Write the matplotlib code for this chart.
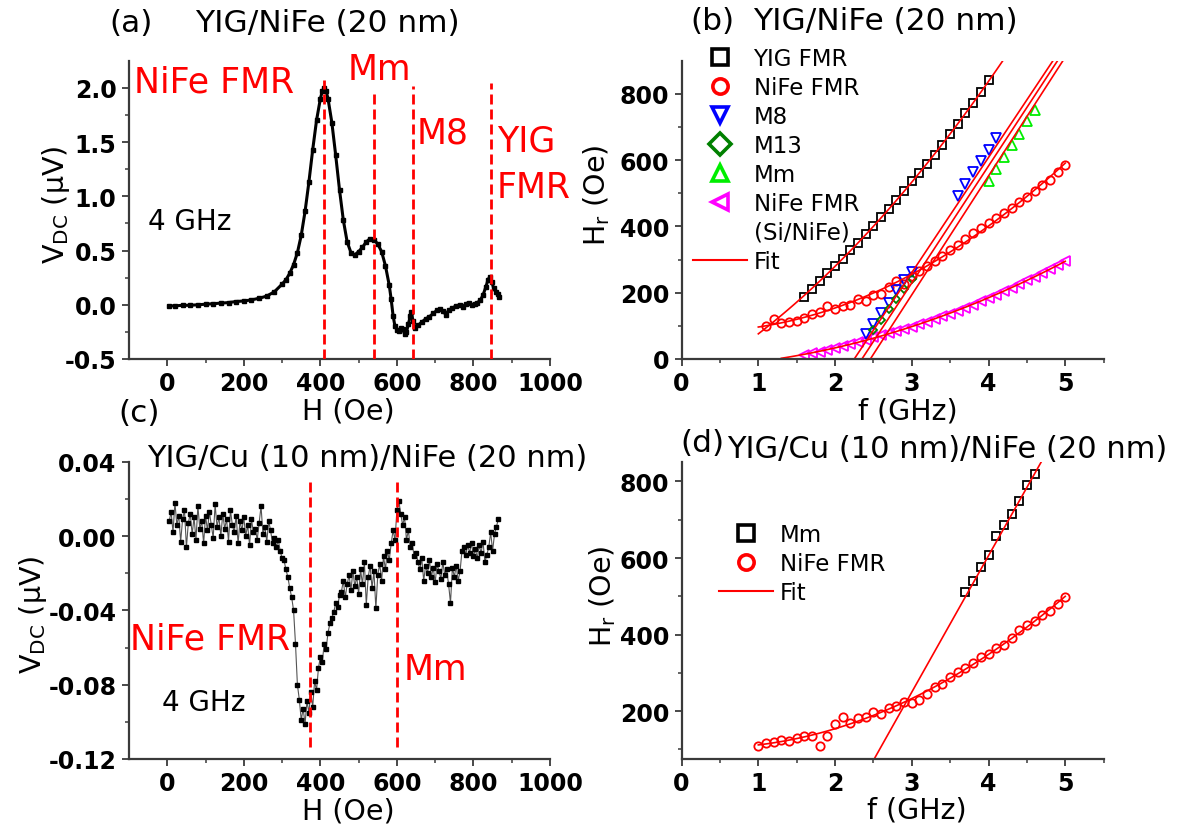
import numpy as np
import matplotlib
matplotlib.use("Agg")
import matplotlib.pyplot as plt
from matplotlib.lines import Line2D

plt.rcParams['font.family'] = ['DejaVu Sans']
plt.rcParams['mathtext.default'] = 'regular'
plt.rcParams['axes.unicode_minus'] = False

W, H = 1187, 829


def fx(x):
    return x / W


def fy(y):
    return 1 - y / H


# ---------------- (a) YIG/NiFe (20 nm), 4 GHz sweep ----------------
a_H = [5, 20, 40, 60, 80, 100, 120, 140, 160, 180, 200, 220, 240, 260, 280,
       300, 310, 320, 330, 340, 350, 360, 370, 380, 390, 400, 405, 410, 415,
       420, 430, 440, 450, 460, 470, 480, 490, 500, 510, 520, 530, 540, 550,
       560, 570, 580, 585, 590, 595, 600, 605, 610, 615, 620, 625, 630, 635,
       638, 642, 648, 655, 665, 675, 685, 695, 705, 712, 720, 728, 735, 745,
       755, 765, 772, 780, 788, 795, 803, 810, 818, 825, 832, 838, 843, 848,
       853, 858, 863, 868]
a_V = [-0.01, -0.01, -0.005, -0.005, 0.0, 0.005, 0.01, 0.015, 0.02, 0.03,
       0.035, 0.045, 0.06, 0.08, 0.12, 0.19, 0.23, 0.29, 0.37, 0.48, 0.64,
       0.86, 1.13, 1.43, 1.70, 1.90, 1.97, 2.00, 1.97, 1.90, 1.68, 1.38, 1.06,
       0.78, 0.58, 0.48, 0.46, 0.49, 0.53, 0.58, 0.61, 0.60, 0.56, 0.49, 0.36,
       0.18, 0.05, -0.10, -0.20, -0.23, -0.24, -0.21, -0.22, -0.27, -0.25,
       -0.18, -0.10, -0.07, -0.15, -0.21, -0.19, -0.16, -0.13, -0.11, -0.08,
       -0.05, -0.04, -0.06, -0.09, -0.05, -0.03, -0.01, 0.0, -0.02, 0.01,
       0.02, 0.0, 0.01, 0.02, 0.04, 0.09, 0.16, 0.23, 0.26, 0.21, 0.15, 0.12,
       0.10, 0.07]
a_mode_H = [410, 540, 641, 846]
a_mode_top = [2.07, 1.99, 2.02, 2.04]
a_labels = ['NiFe FMR', 'Mm', 'M8', 'YIG', 'FMR']
a_label_pos = [(-87, 2.06), (471, 2.17), (651, 1.59), (861, 1.51), (861, 1.085)]

# ---------------- (b) resonance fields vs frequency ----------------
b_yig_f = [1.6, 1.7, 1.8, 1.9, 2.0, 2.1, 2.2, 2.3, 2.4, 2.5, 2.6, 2.7, 2.8,
           2.9, 3.0, 3.1, 3.2, 3.3, 3.4, 3.5, 3.6, 3.7, 3.8, 3.9, 4.0]
b_yig_H = [188, 211, 236, 259, 281, 303, 329, 351, 376, 401, 427, 454, 480,
           506, 536, 561, 588, 615, 645, 678, 708, 741, 773, 806, 843]
b_nife_f = [1.1, 1.2, 1.3, 1.4, 1.5, 1.6, 1.7, 1.8, 1.9, 2.0, 2.1, 2.2, 2.3,
            2.4, 2.5, 2.6, 2.7, 2.8, 2.9, 3.0, 3.1, 3.2, 3.3, 3.4, 3.5, 3.6,
            3.7, 3.8, 3.9, 4.0, 4.1, 4.2, 4.3, 4.4, 4.5, 4.6, 4.7, 4.8, 4.9,
            5.0]
b_nife_H = [100, 120, 108, 112, 115, 125, 135, 141, 161, 151, 161, 163, 181,
            176, 193, 196, 216, 236, 226, 251, 266, 281, 296, 311, 329, 343,
            361, 381, 394, 409, 424, 441, 457, 474, 490, 507, 524, 541, 565,
            585]
b_m8_f = [2.4, 2.5, 2.6, 2.7, 2.8, 2.9, 3.0, 3.6, 3.7, 3.8, 3.9, 4.0, 4.1]
b_m8_H = [75, 105, 138, 170, 208, 237, 262, 492, 528, 564, 597, 632, 667]
b_m13_f = [2.5, 2.6, 2.7, 2.8, 2.9, 3.0]
b_m13_H = [88, 118, 150, 180, 210, 240]
b_mm_f = [4.0, 4.1, 4.2, 4.3, 4.4, 4.5, 4.6]
b_mm_H = [538, 572, 610, 646, 680, 718, 752]
b_si_f = [1.6, 1.7, 1.8, 1.9, 2.0, 2.1, 2.2, 2.3, 2.4, 2.5, 2.6, 2.7, 2.8,
          2.9, 3.0, 3.1, 3.2, 3.3, 3.4, 3.5, 3.6, 3.7, 3.8, 3.9, 4.0, 4.1,
          4.2, 4.3, 4.4, 4.5, 4.6, 4.7, 4.8, 4.9, 5.0]
b_si_H = [12, 17, 22, 28, 33, 40, 46, 52, 58, 65, 71, 78, 84, 91, 98, 106,
          113, 121, 129, 137, 146, 155, 164, 174, 184, 194, 204, 215, 226, 237,
          248, 260, 272, 284, 296]
# straight fits of the M8 / M13 / Mm branches (end points)
b_fit_m8_f, b_fit_m8_H = [2.25, 4.84], [0, 900]
b_fit_m13_f, b_fit_m13_H = [2.35, 4.90], [0, 900]
b_fit_mm_f, b_fit_mm_H = [2.46, 4.97], [0, 900]

# ---------------- (c) YIG/Cu/NiFe, 4 GHz sweep ----------------
c_H = [5, 10, 15, 20, 25, 30, 35, 40, 45, 50,
       55, 60, 65, 70, 75, 80, 85, 90, 95, 100,
       105, 110, 115, 120, 125, 130, 135, 140, 145, 150,
       155, 160, 165, 170, 175, 180, 185, 190, 195, 200,
       205, 210, 215, 220, 225, 230, 235, 240, 245, 250,
       255, 260, 265, 270, 275, 280, 285, 290, 295, 300,
       305, 310, 315, 320, 325, 330, 335, 340, 345, 350,
       355, 360, 365, 370, 375, 380, 385, 390, 395, 400,
       405, 410, 415, 420, 425, 430, 435, 440, 445, 450,
       455, 460, 465, 470, 475, 480, 485, 490, 495, 500,
       505, 510, 515, 520, 525, 530, 535, 540, 545, 550,
       555, 560, 565, 570, 575, 580, 585, 590, 595, 600,
       605, 610, 615, 620, 625, 630, 635, 640, 645, 650,
       655, 660, 665, 670, 675, 680, 685, 690, 695, 700,
       705, 710, 715, 720, 725, 730, 735, 740, 745, 750,
       755, 760, 765, 770, 775, 780, 785, 790, 795, 800,
       805, 810, 815, 820, 825, 830, 835, 840, 845, 850,
       855, 860, 865]
c_V = [0.008, 0.013, 0.002, 0.018, 0.006, 0.011, -0.003, 0.009, 0.014, -0.006,
       0.007, 0.012, 0.001, 0.010, -0.002, 0.016, 0.004, 0.008, -0.004, 0.011,
       0.003, 0.013, 0.006, -0.001, 0.017, 0.005, 0.010, 0.000, 0.012, 0.004,
       0.009, -0.003, 0.014, 0.006, 0.002, 0.011, -0.004, 0.008, 0.003, 0.010,
       0.000, 0.006, -0.005, 0.009, 0.002, 0.004, -0.002, 0.007, 0.016, 0.001,
       0.005, -0.003, 0.008, 0.003, -0.004, -0.001, -0.006, -0.002, -0.008, -0.012,
       -0.013, -0.018, -0.022, -0.028, -0.033, -0.040, -0.058, -0.080, -0.088, -0.099,
       -0.093, -0.101, -0.089, -0.095, -0.084, -0.092, -0.078, -0.083, -0.071, -0.065,
       -0.068, -0.058, -0.061, -0.052, -0.047, -0.044, -0.041, -0.036, -0.038, -0.032,
       -0.030, -0.024, -0.033, -0.026, -0.021, -0.029, -0.019, -0.027, -0.022, -0.031,
       -0.018, -0.026, -0.014, -0.037, -0.022, -0.016, -0.028, -0.019, -0.039, -0.021,
       -0.015, -0.024, -0.011, -0.018, -0.008, -0.013, -0.004, 0.003, -0.002, 0.014,
       0.019, 0.012, 0.006, 0.010, -0.002, 0.003, -0.006, -0.004, -0.011, -0.009,
       -0.014, -0.018, -0.012, -0.024, -0.016, -0.020, -0.013, -0.022, -0.017, -0.025,
       -0.015, -0.019, -0.023, -0.014, -0.021, -0.018, -0.026, -0.036, -0.017, -0.022,
       -0.016, -0.024, -0.019, -0.008, -0.006, -0.010, -0.005, -0.009, -0.004, -0.011,
       -0.007, -0.012, -0.005, -0.009, -0.003, -0.014, -0.010, -0.006, 0.002, -0.008,
       0.001, 0.005, 0.009]
c_mode_H = [372, 599]
c_mode_top = [0.029, 0.031]
c_labels = ['NiFe FMR', 'Mm']
c_label_pos = [(-97, -0.0554), (617, -0.0716)]

# ---------------- (d) resonance fields, YIG/Cu/NiFe ----------------
d_mm_f = [3.7, 3.8, 3.9, 4.0, 4.1, 4.2, 4.3, 4.4, 4.5, 4.6]
d_mm_H = [511, 541, 577, 609, 657, 685, 715, 750, 791, 819]
d_nife_f = [1.0, 1.1, 1.2, 1.3, 1.4, 1.5, 1.6, 1.7, 1.8, 1.9, 2.0, 2.1, 2.2,
            2.3, 2.4, 2.5, 2.6, 2.7, 2.8, 2.9, 3.0, 3.1, 3.2, 3.3, 3.4, 3.5,
            3.6, 3.7, 3.8, 3.9, 4.0, 4.1, 4.2, 4.3, 4.4, 4.5, 4.6, 4.7, 4.8,
            4.9, 5.0]
d_nife_H = [110, 118, 120, 124, 123, 129, 136, 136, 110, 136, 166, 185, 169,
            181, 185, 197, 192, 207, 214, 223, 220, 229, 246, 262, 270, 288,
            301, 314, 327, 341, 350, 364, 372, 392, 411, 425, 435, 450, 461,
            479, 498]
d_fit_mm_f, d_fit_mm_H = [2.51, 4.69], [75, 852]

# ---------------- tick definitions ----------------
field_ticks = [0, 200, 400, 600, 800, 1000]
field_minor = [100, 300, 500, 700, 900]
a_yticks = [-0.5, 0.0, 0.5, 1.0, 1.5, 2.0]
a_yminor = [-0.25, 0.25, 0.75, 1.25, 1.75]
c_yticks = [-0.12, -0.08, -0.04, 0.00, 0.04]
c_yminor = [-0.10, -0.06, -0.02, 0.02]
f_ticks = [0, 1, 2, 3, 4, 5]
f_minor = [0.5, 1.5, 2.5, 3.5, 4.5, 5.5]
b_yticks = [0, 200, 400, 600, 800]
b_yminor = [100, 300, 500, 700]
d_yticks = [200, 400, 600, 800]
d_yminor = [100, 300, 500, 700]

RED = '#ff0000'
AX = '#3a3a3a'
TICK_FS = 17
LABEL_FS = 20.5
TITLE_FS = 22.5
ANNOT_FS = 25
LEG_FS = 16.5

fig = plt.figure(figsize=(W / 100, H / 100), dpi=100)
ax_a = fig.add_axes([fx(129), fy(360), 421 / W, 298.3 / H])
ax_b = fig.add_axes([fx(681.6), fy(360), 422 / W, 298.3 / H])
ax_c = fig.add_axes([fx(129), fy(760), 421 / W, 297.3 / H])
ax_d = fig.add_axes([fx(681.6), fy(760), 422 / W, 296.7 / H])


def style(ax, xt, xtl, xm, yt, ytl, ym):
    for s in ('top', 'right'):
        ax.spines[s].set_visible(False)
    for s in ('left', 'bottom'):
        ax.spines[s].set_linewidth(1.6)
        ax.spines[s].set_color(AX)
    ax.set_xticks(xt, labels=xtl, fontweight='bold', fontsize=TICK_FS)
    ax.set_yticks(yt, labels=ytl, fontweight='bold', fontsize=TICK_FS)
    ax.set_xticks(xm, minor=True)
    ax.set_yticks(ym, minor=True)
    ax.tick_params(which='major', direction='out', length=5, width=1.3,
                   color=AX, pad=4)
    ax.tick_params(which='minor', direction='out', length=3, width=1.1,
                   color=AX)


dash = (0, (3.6, 1.8))

# ---- (a)
ax_a.plot(a_H, a_V, '-', color='k', lw=2.2, marker='s', ms=2.4, zorder=2)
for h, top in zip(a_mode_H, a_mode_top):
    ax_a.plot([h, h], [-0.5, top], color=RED, lw=2.0, linestyle=dash, zorder=3)
for txt, (x, y) in zip(a_labels, a_label_pos):
    ax_a.text(x, y, txt, color=RED, fontsize=ANNOT_FS, ha='left', va='center')
ax_a.text(-51, 0.77, '4 GHz', color='k', fontsize=20, ha='left', va='center')
ax_a.set_xlim(-100, 1000)
ax_a.set_ylim(-0.5, 2.25)
style(ax_a, field_ticks, [str(v) for v in field_ticks], field_minor,
      a_yticks, ['%.1f' % v for v in a_yticks], a_yminor)
ax_a.set_xlabel('H (Oe)', fontsize=LABEL_FS)
ax_a.xaxis.set_label_coords(0.52, -0.125)
ax_a.set_ylabel('V$_{DC}$ (μV)', fontsize=LABEL_FS)
ax_a.yaxis.set_label_coords(-0.135, 0.52)

# ---- (b)
mk = dict(ls='none', mfc='none', mew=1.3)
ax_b.plot(b_si_f, b_si_H, marker='<', ms=7, mec='#ff00ff', **mk)
ax_b.plot(b_yig_f, b_yig_H, marker='s', ms=5.5, mec='k', **mk)
ax_b.plot(b_nife_f, b_nife_H, marker='o', ms=6, mec=RED, **mk)
ax_b.plot(b_m8_f, b_m8_H, marker='v', ms=7.5, mec='#0000ff', **mk)
ax_b.plot(b_m13_f, b_m13_H, marker='D', ms=3.8, mec='#008000', **mk)
ax_b.plot(b_mm_f, b_mm_H, marker='^', ms=7.5, mec='#00ee00', **mk)

fit_lw = 1.2
c_yig = np.polyfit(b_yig_f, b_yig_H, 2)
f_yig = np.linspace(1.0, 4.3, 120)
ax_b.plot(f_yig, np.polyval(c_yig, f_yig), color=RED, lw=fit_lw)
c_nife = np.polyfit(b_nife_f, b_nife_H, 2)
f_nife = np.linspace(1.0, 5.0, 120)
ax_b.plot(f_nife, np.polyval(c_nife, f_nife), color=RED, lw=fit_lw)
c_si = np.polyfit(b_si_f, b_si_H, 2)
f_si = np.linspace(1.3, 5.0, 120)
ax_b.plot(f_si, np.polyval(c_si, f_si), color=RED, lw=fit_lw)
for ff, hh in ((b_fit_m8_f, b_fit_m8_H), (b_fit_m13_f, b_fit_m13_H),
               (b_fit_mm_f, b_fit_mm_H)):
    ax_b.plot(ff, hh, color=RED, lw=fit_lw)

ax_b.set_xlim(0, 5.5)
ax_b.set_ylim(0, 900)
style(ax_b, f_ticks, [str(v) for v in f_ticks], f_minor,
      b_yticks, [str(v) for v in b_yticks], b_yminor)
ax_b.set_xlabel('f (GHz)', fontsize=LABEL_FS)
ax_b.xaxis.set_label_coords(0.536, -0.125)
ax_b.set_ylabel('H$_{r}$ (Oe)', fontsize=LABEL_FS)
ax_b.yaxis.set_label_coords(-0.165, 0.553)

lk = dict(ls='none', mfc='none', ms=11, mew=2.6)
b_handles = [
    Line2D([], [], marker='s', mec='k', **lk),
    Line2D([], [], marker='o', mec=RED, **lk),
    Line2D([], [], marker='v', mec='#0000ff', **lk),
    Line2D([], [], marker='D', mec='#008000', **lk),
    Line2D([], [], marker='^', mec='#00ee00', **lk),
    Line2D([], [], marker='<', mec='#ff00ff', **lk),
    Line2D([], [], ls='none'),
    Line2D([], [], color=RED, lw=1.5),
]
b_names = ['YIG FMR', 'NiFe FMR', 'M8', 'M13', 'Mm', 'NiFe FMR', '(Si/NiFe)',
           'Fit']
ax_b.legend(b_handles, b_names, loc='upper left',
            bbox_to_anchor=(fx(693), fy(48)), bbox_transform=fig.transFigure,
            frameon=False, fontsize=LEG_FS, handlelength=2.36,
            handletextpad=0.28, labelspacing=0.26, borderpad=0,
            borderaxespad=0)

# ---- (c)
ax_c.plot(c_H, c_V, '-', color='#555555', lw=0.8, marker='s', ms=2.6,
          mfc='k', mec='k', zorder=2)
for h, top in zip(c_mode_H, c_mode_top):
    ax_c.plot([h, h], [-0.1137, top], color=RED, lw=2.0, linestyle=dash,
              zorder=3)
for txt, (x, y) in zip(c_labels, c_label_pos):
    ax_c.text(x, y, txt, color=RED, fontsize=ANNOT_FS, ha='left', va='center')
ax_c.text(-14, -0.0893, '4 GHz', color='k', fontsize=20, ha='left',
          va='center')
ax_c.set_xlim(-100, 1000)
ax_c.set_ylim(-0.12, 0.04)
style(ax_c, field_ticks, [str(v) for v in field_ticks], field_minor,
      c_yticks, ['%.2f' % v for v in c_yticks], c_yminor)
ax_c.set_xlabel('H (Oe)', fontsize=LABEL_FS)
ax_c.xaxis.set_label_coords(0.52, -0.125)
ax_c.set_ylabel('V$_{DC}$ (μV)', fontsize=LABEL_FS)
ax_c.yaxis.set_label_coords(-0.19, 0.488)

# ---- (d)
ax_d.plot(d_mm_f, d_mm_H, marker='s', ms=5.5, mec='k', **mk)
ax_d.plot(d_nife_f, d_nife_H, marker='o', ms=6, mec=RED, **mk)
ax_d.plot(d_fit_mm_f, d_fit_mm_H, color=RED, lw=fit_lw)
c_dn = np.polyfit(d_nife_f, d_nife_H, 2)
f_dn = np.linspace(1.0, 5.0, 120)
ax_d.plot(f_dn, np.polyval(c_dn, f_dn), color=RED, lw=fit_lw)
ax_d.set_xlim(0, 5.5)
ax_d.set_ylim(75, 850)
style(ax_d, f_ticks, [str(v) for v in f_ticks], f_minor,
      d_yticks, [str(v) for v in d_yticks], d_yminor)
ax_d.set_xlabel('f (GHz)', fontsize=LABEL_FS)
ax_d.xaxis.set_label_coords(0.558, -0.122)
ax_d.set_ylabel('H$_{r}$ (Oe)', fontsize=LABEL_FS)
ax_d.yaxis.set_label_coords(-0.15, 0.551)

d_handles = [
    Line2D([], [], marker='s', mec='k', **lk),
    Line2D([], [], marker='o', mec=RED, **lk),
    Line2D([], [], color=RED, lw=1.5),
]
ax_d.legend(d_handles, ['Mm', 'NiFe FMR', 'Fit'], loc='upper left',
            bbox_to_anchor=(fx(719), fy(524)), bbox_transform=fig.transFigure,
            frameon=False, fontsize=LEG_FS, handlelength=2.36,
            handletextpad=0.28, labelspacing=0.26, borderpad=0,
            borderaxespad=0)

# ---- panel titles
fig.text(fx(109), fy(23), '(a)', fontsize=TITLE_FS, ha='left', va='center')
fig.text(fx(195), fy(23), 'YIG/NiFe (20 nm)', fontsize=TITLE_FS, ha='left',
         va='center')
fig.text(fx(690), fy(22), '(b)', fontsize=TITLE_FS, ha='left', va='center')
fig.text(fx(753.5), fy(22), 'YIG/NiFe (20 nm)', fontsize=TITLE_FS,
         ha='left', va='center')
fig.text(fx(118.6), fy(414), '(c)', fontsize=TITLE_FS, ha='left', va='center')
fig.text(fx(147), fy(459), 'YIG/Cu (10 nm)/NiFe (20 nm)', fontsize=22,
         ha='left', va='center')
fig.text(fx(680.5), fy(444), '(d)', fontsize=TITLE_FS, ha='left', va='center')
fig.text(fx(727), fy(450), 'YIG/Cu (10 nm)/NiFe (20 nm)', fontsize=22,
         ha='left', va='center')

fig.savefig('out.png', dpi=100)
